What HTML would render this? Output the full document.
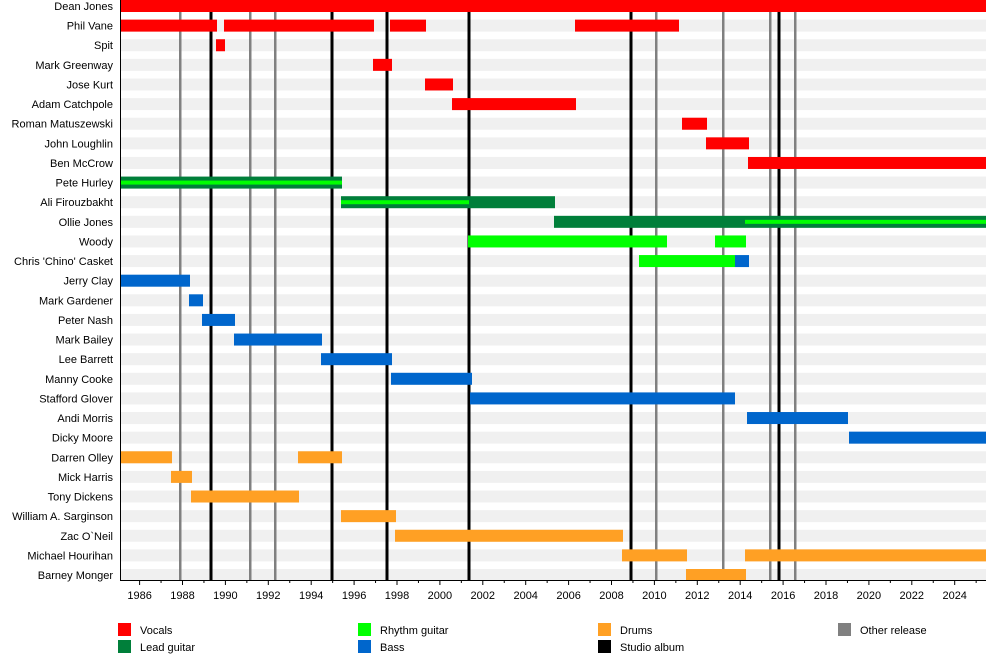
<!DOCTYPE html>
<html><head><meta charset="utf-8"><style>body{margin:0;background:#fff}svg{display:block}text{font-family:"Liberation Sans",sans-serif;font-size:11px;fill:#000}</style></head><body>
<svg width="1000" height="670" xmlns="http://www.w3.org/2000/svg" id="s"></svg>
<script>
const s=document.getElementById('s');let h='';
const names=["Dean Jones","Phil Vane","Spit","Mark Greenway","Jose Kurt","Adam Catchpole","Roman Matuszewski","John Loughlin","Ben McCrow","Pete Hurley","Ali Firouzbakht","Ollie Jones","Woody","Chris 'Chino' Casket","Jerry Clay","Mark Gardener","Peter Nash","Mark Bailey","Lee Barrett","Manny Cooke","Stafford Glover","Andi Morris","Dicky Moore","Darren Olley","Mick Harris","Tony Dickens","William A. Sarginson","Zac O`Neil","Michael Hourihan","Barney Monger"];
const P=20.32, R='#ff0000',G='#007f3a',L='#00ff00',B='#0066cc',O='#ffa024';
names.forEach((n,i)=>{const y=i*P*28/29*29/28;});
const rows=names.length; const pitch=569/(rows-1);
for(let i=0;i<rows;i++){const y=i*pitch;h+=`<rect x="121" y="${y}" width="865" height="12" fill="#f0f0f0"/>`;h+=`<text x="113" y="${y+10}" text-anchor="end">${names[i]}</text>`;}
const gray=[180,250,275,656,723,770,795],blk=[211,332,387,469,631,779];
gray.forEach(x=>h+=`<rect x="${x-1}" y="0" width="2.5" height="580" fill="#808080"/>`);
blk.forEach(x=>h+=`<rect x="${x-1.5}" y="0" width="3" height="580" fill="#000"/>`);
const bars=[[0,120,986,R],[1,120,217,R],[1,224,374,R],[1,390,426,R],[1,575,679,R],[2,216,225,R],[3,373,392,R],[4,425,453,R],[5,452,576,R],[6,682,707,R],[7,706,749,R],[8,748,986,R],[9,120,342,G],[10,341,555,G],[11,554,986,G],[12,468,667,L],[12,715,746,L],[13,639,735,L],[13,735,749,B],[14,120,190,B],[15,189,203,B],[16,202,235,B],[17,234,322,B],[18,321,392,B],[19,391,472,B],[20,470,735,B],[21,747,848,B],[22,849,986,B],[23,120,172,O],[23,298,342,O],[24,171,192,O],[25,191,299,O],[26,341,396,O],[27,395,623,O],[28,622,687,O],[28,745,986,O],[29,686,746,O]];
bars.forEach(([i,a,b,c])=>h+=`<rect x="${a}" y="${i*pitch}" width="${b-a}" height="12" fill="${c}"/>`);
[[9,120,342],[10,341,469],[11,745,986]].forEach(([i,a,b])=>h+=`<rect x="${a}" y="${i*pitch+4}" width="${b-a}" height="4" fill="${L}"/>`);
h+=`<rect x="120" y="0" width="1" height="581" fill="#000"/><rect x="120" y="580" width="866" height="1" fill="#000"/>`;
for(let yr=1986;yr<=2025;yr++){const x=139.6+(yr-1986)*21.45;const maj=yr%2==0;h+=`<rect x="${x-0.5}" y="580" width="1" height="${maj?5:3}" fill="#000"/>`;if(maj)h+=`<text x="${x}" y="599" text-anchor="middle">${yr}</text>`;}
const leg=[[118,623,R,'Vocals'],[118,640,G,'Lead guitar'],[358,623,L,'Rhythm guitar'],[358,640,B,'Bass'],[598,623,O,'Drums'],[598,640,'#000','Studio album'],[838,623,'#808080','Other release']];
leg.forEach(([x,y,c,t])=>h+=`<rect x="${x}" y="${y}" width="13" height="13" fill="${c}"/><text x="${x+22}" y="${y+11}">${t}</text>`);
s.innerHTML=h;
</script>
</body></html>
